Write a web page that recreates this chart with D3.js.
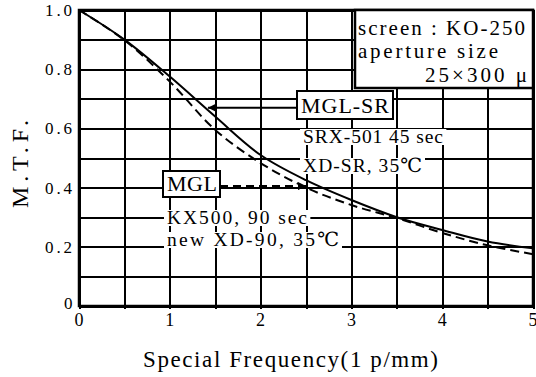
<!DOCTYPE html>
<html>
<head>
<meta charset="utf-8">
<script src="https://cdn.jsdelivr.net/npm/d3@7"></script>
<style>
  body { margin: 0; background: #fff; }
</style>
</head>
<body>
<div id="chart"></div>
<script>
// spatial frequency (lp/mm) and MTF readings
const freq = [0, 0.5, 1, 1.5, 2, 2.5, 3, 3.5, 4, 4.5, 5];
const mglSR = [1.0, 0.90, 0.775, 0.64, 0.51, 0.425, 0.358, 0.30, 0.257, 0.218, 0.195];
const mgl = [1.0, 0.898, 0.758, 0.595, 0.483, 0.40, 0.341, 0.297, 0.247, 0.205, 0.175];

const xTickLabels = ['0', '1', '2', '3', '4', '5'];
const yTickLabels = ['0', '0.2', '0.4', '0.6', '0.8', '1.0'];
const xGrid = [0, 0.5, 1, 1.5, 2, 2.5, 3, 3.5, 4, 4.5, 5];
const yGrid = [0, 0.1, 0.2, 0.3, 0.4, 0.5, 0.6, 0.7, 0.8, 0.9, 1.0];

const FONT = "'Liberation Serif', 'Times New Roman', 'DejaVu Serif', serif";
const W = 536, H = 377;
const margin = { top: 10, right: 3, bottom: 71, left: 79 };

const svg = d3.select('#chart').append('svg')
  .attr('width', W)
  .attr('height', H)
  .attr('font-family', FONT);

const x = d3.scaleLinear().domain([0, 5]).range([margin.left, W - margin.right]);
const y = d3.scaleLinear().domain([0, 1]).range([H - margin.bottom, margin.top]);

// grid (with short ticks below the axis)
svg.append('g')
  .attr('transform', `translate(0, ${y(0)})`)
  .call(d3.axisBottom(x).tickValues(xGrid).tickSize(-(y(0) - y(1))).tickFormat(''))
  .call(g => g.select('.domain').remove())
  .call(g => g.selectAll('line').attr('y1', 3).attr('stroke', '#000').attr('stroke-width', 2).attr('shape-rendering', 'crispEdges'));

svg.append('g')
  .attr('transform', `translate(${x(0)}, 0)`)
  .call(d3.axisLeft(y).tickValues(yGrid).tickSize(-(x(5) - x(0))).tickFormat(''))
  .call(g => g.select('.domain').remove())
  .call(g => g.selectAll('line').attr('stroke', '#000').attr('stroke-width', 2).attr('shape-rendering', 'crispEdges'));

// frame
svg.append('rect')
  .attr('x', x(0)).attr('y', y(1))
  .attr('width', x(5) - x(0)).attr('height', y(0) - y(1))
  .attr('fill', 'none').attr('stroke', '#000').attr('stroke-width', 2.5);

// tick labels
svg.append('g').selectAll('text')
  .data(xTickLabels)
  .join('text')
  .attr('x', d => x(+d))
  .attr('y', y(0) + 20)
  .attr('text-anchor', 'middle')
  .attr('font-family', FONT)
  .attr('font-size', 18)
  .text(d => d);

svg.append('g').selectAll('text')
  .data(yTickLabels)
  .join('text')
  .attr('x', d => d === '0' ? x(0) - 15 : x(0) - 34)
  .attr('y', d => y(+d) + (d === '0' ? 3 : 6))
  .attr('font-family', FONT)
  .attr('font-size', 17)
  .attr('textLength', d => d === '0' ? null : 27)
  .attr('lengthAdjust', 'spacing')
  .text(d => d);

// axis titles
svg.append('text')
  .attr('x', 143)
  .attr('y', 367)
  .attr('font-family', FONT)
  .attr('font-size', 23)
  .attr('textLength', 295)
  .attr('lengthAdjust', 'spacing')
  .text('Special Frequency(1 p/mm)');

svg.append('text')
  .attr('transform', 'translate(28, 208) rotate(-90)')
  .attr('font-family', FONT)
  .attr('font-size', 24)
  .attr('textLength', 88)
  .attr('lengthAdjust', 'spacing')
  .text('M.T.F.');

// legend box (screen info)
svg.append('rect')
  .attr('x', 355).attr('y', y(1))
  .attr('width', x(5) - 355).attr('height', 78)
  .attr('fill', '#fff').attr('stroke', '#000').attr('stroke-width', 2.5);

const infoLines = [
  { t: 'screen : KO-250', x: 358, y: 35, len: 167 },
  { t: 'aperture  size', x: 358, y: 58, len: 140 },
  { t: '25×300 μ', x: 425, y: 82, len: 102 }
];
svg.append('g').selectAll('text')
  .data(infoLines)
  .join('text')
  .attr('x', d => d.x).attr('y', d => d.y)
  .attr('font-family', FONT)
  .attr('font-size', 21)
  .attr('textLength', d => d.len)
  .attr('lengthAdjust', 'spacing')
  .text(d => d.t);

// annotation texts with white backing
const notes = [
  { t: 'SRX-501  45 sec', x: 303, y: 143, len: 140 },
  { t: 'XD-SR,  35℃', x: 303, y: 172, len: 119 },
  { t: 'KX500,  90 sec', x: 167, y: 224, len: 140 },
  { t: 'new  XD-90,  35℃', x: 167, y: 246, len: 172 }
];
const backs = svg.append('g');
const noteText = svg.append('g').selectAll('text')
  .data(notes)
  .join('text')
  .attr('x', d => d.x).attr('y', d => d.y)
  .attr('font-family', FONT)
  .attr('font-size', 19.5)
  .attr('textLength', d => d.len)
  .attr('lengthAdjust', 'spacing')
  .text(d => d.t);
noteText.each(function () {
  const b = this.getBBox();
  backs.append('rect')
    .attr('x', b.x - 3).attr('y', b.y + 3)
    .attr('width', b.width + 6).attr('height', b.height - 5)
    .attr('fill', '#fff');
});

// arrow marker
svg.append('defs').append('marker')
  .attr('id', 'arr')
  .attr('viewBox', '0 0 10 10')
  .attr('refX', 10).attr('refY', 5)
  .attr('markerWidth', 5).attr('markerHeight', 4)
  .attr('orient', 'auto')
  .attr('markerUnits', 'strokeWidth')
  .append('path').attr('d', 'M0,0L10,5L0,10Z').attr('fill', '#000');

// curves
const line = d3.line()
  .x((d, i) => x(freq[i]))
  .y(d => y(d))
  .curve(d3.curveCatmullRom);

svg.append('path')
  .attr('d', line(mglSR))
  .attr('fill', 'none').attr('stroke', '#000').attr('stroke-width', 2);

svg.append('path')
  .attr('d', line(mgl))
  .attr('fill', 'none').attr('stroke', '#000').attr('stroke-width', 2)
  .attr('stroke-dasharray', '9,5');

// label boxes
const boxes = [
  { t: 'MGL-SR', x: 297, y: 91, w: 96, h: 28, len: 88 },
  { t: 'MGL', x: 163, y: 171, w: 57, h: 26, len: 50 }
];
const bx = svg.append('g').selectAll('g').data(boxes).join('g');
bx.append('rect')
  .attr('x', d => d.x).attr('y', d => d.y)
  .attr('width', d => d.w).attr('height', d => d.h)
  .attr('fill', '#fff').attr('stroke', '#000').attr('stroke-width', 2);
bx.append('text')
  .attr('x', d => d.x + 4).attr('y', d => d.y + d.h - 6)
  .attr('font-family', FONT)
  .attr('font-size', 22)
  .attr('textLength', d => d.len)
  .attr('lengthAdjust', 'spacing')
  .text(d => d.t);

// arrows from boxes to curves
svg.append('line')
  .attr('x1', 297).attr('y1', y(0.67))
  .attr('x2', x(1.42)).attr('y2', y(0.67))
  .attr('stroke', '#000').attr('stroke-width', 2)
  .attr('marker-end', 'url(#arr)');

svg.append('line')
  .attr('x1', 220).attr('y1', y(0.405))
  .attr('x2', x(2.5)).attr('y2', y(0.405))
  .attr('stroke', '#000').attr('stroke-width', 2)
  .attr('stroke-dasharray', '8,5')
  .attr('marker-end', 'url(#arr)');
</script>
</body>
</html>
